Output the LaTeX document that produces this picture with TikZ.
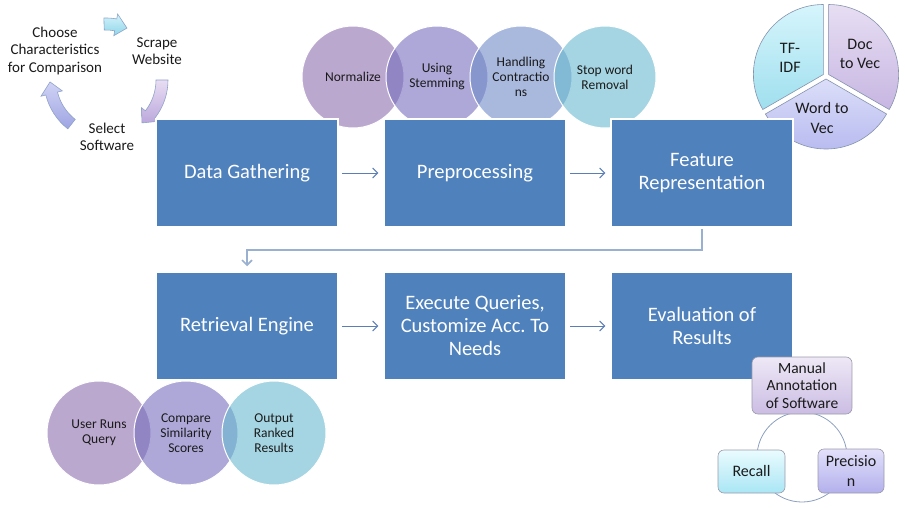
\documentclass[tikz,border=0pt]{standalone}
\usepackage{fontspec}
\setmainfont{Carlito}
\frenchspacing
\usetikzlibrary{arrows.meta, shadings}

\definecolor{boxblue}{HTML}{4F81BD}
\definecolor{arrowcol}{HTML}{5B7EB6}
\definecolor{elbowcol}{HTML}{9AB0D0}
\definecolor{txt}{HTML}{1A1A1A}
\definecolor{v1}{HTML}{8E6EAF}
\definecolor{v2}{HTML}{766EBE}
\definecolor{v3}{HTML}{708AC8}
\definecolor{v4}{HTML}{69B9CF}
\definecolor{tftop}{HTML}{D6F5FC}
\definecolor{tfbot}{HTML}{9FDFEE}
\definecolor{doctop}{HTML}{E7DEF3}
\definecolor{docbot}{HTML}{C7B6E2}
\definecolor{wordtop}{HTML}{DCDEF9}
\definecolor{wordbot}{HTML}{B4B7EE}
\definecolor{pieline}{HTML}{8593AE}
\definecolor{atop1}{HTML}{D3F3FA}
\definecolor{abot1}{HTML}{8ED6E9}
\definecolor{atop2}{HTML}{E8DDF3}
\definecolor{abot2}{HTML}{BCA8DC}
\definecolor{atop3}{HTML}{D0D3F5}
\definecolor{abot3}{HTML}{9EA4E2}
\definecolor{cycline}{HTML}{8FA3C9}
\definecolor{mantop}{HTML}{EEE8F6}
\definecolor{manbot}{HTML}{CBBDE3}
\definecolor{rectop}{HTML}{EAFBFE}
\definecolor{recbot}{HTML}{A9E6F5}
\definecolor{prectop}{HTML}{E2E0FA}
\definecolor{precbot}{HTML}{B3B0EC}
\definecolor{roundline}{HTML}{9A9AAA}
\definecolor{ringcol}{HTML}{8DA0C0}

% curved block arrow of the small cycle: #1 start angle, #2 end angle, #3/#4 colours
\newcommand{\cyclearrow}[4]{%
  \draw[cycline, line width=0.6pt, top color=#3, bottom color=#4]
    (#1:50) arc[start angle=#1, end angle=#2-12, radius=50]
    -- (#2-12:45) -- (#2:56) -- (#2-12:67) -- (#2-12:62)
    arc[start angle=#2-12, end angle=#1, radius=62] -- cycle;
}

\begin{document}
\begin{tikzpicture}[x=1pt, y=-1pt,
    mainbox/.style={rectangle, fill=boxblue, draw=white, line width=1.5pt,
      minimum width=182pt, minimum height=108pt, text=white, align=center,
      font=\fontsize{20.5}{23}\selectfont},
    venn/.style={circle, draw=white, line width=1pt, minimum size=102pt,
      fill opacity=0.6, text opacity=1, text=txt, align=center, inner sep=0pt,
      font=\fontsize{13.5}{15}\selectfont},
    cyctext/.style={text=txt, align=center, font=\fontsize{15}{17.5}\selectfont},
    pietext/.style={text=txt, align=center, font=\fontsize{16}{19.5}\selectfont},
    roundbox/.style={rectangle, rounded corners=6pt, draw=roundline, line width=0.6pt,
      text=txt, align=center, inner sep=1pt},
    flowline/.style={draw=arrowcol, line width=0.9pt,
      -{Straight Barb[length=5pt, width=10pt]}, shorten <=3pt, shorten >=5pt},
    elbowline/.style={draw=elbowcol, line width=1.6pt,
      -{Straight Barb[length=5pt, width=10pt]}, shorten <=1pt, shorten >=5pt}]
  \useasboundingbox (0,0) rectangle (905,508);

  % Small cycle (top left)
  \begin{scope}[shift={(106,80)}]
    \cyclearrow{-92}{-68}{atop1}{abot1}
    \cyclearrow{0}{50}{atop2}{abot2}
    \cyclearrow{128}{178}{atop3}{abot3}
  \end{scope}
  \node[cyctext] (choose) at (55,51) {Choose\\Characteristics\\for Comparison};
  \node[cyctext] (scrape) at (157,51) {Scrape\\Website};
  \node[cyctext] (select) at (107,137) {Select\\Software};

  % Preprocessing steps
  \foreach \name/\x/\col/\txt in {norm/353/v1/Normalize, stem/437/v2/{Using\\Stemming},
      contr/521/v3/{Handling\\Contractio\\ns}, stop/605/v4/{Stop word\\Removal}}
    \node[venn, fill=\col] (\name) at (\x,77) {\txt};

  % Retrieval steps
  \foreach \name/\x/\col/\txt in {query/99/v1/{User Runs\\Query},
      compare/186/v2/{Compare\\Similarity\\Scores}, ranked/274/v4/{Output\\Ranked\\Results}}
    \node[venn, fill=\col, minimum size=104pt] (\name) at (\x,433) {\txt};

  % Pie of representations
  \begin{scope}[shift={(826,76)}]
    \foreach \a/\b/\tc/\bc in {90/210/tftop/tfbot, -30/90/doctop/docbot, 210/330/wordtop/wordbot}
      \draw[pieline, line width=0.6pt, top color=\tc, bottom color=\bc]
        ({-(\a+\b)/2}:3) -- ++({-\a}:70) arc[start angle={-\a}, end angle={-\b}, radius=70] -- cycle;
  \end{scope}
  \node[pietext] (tfidf) at (790,58) {TF-\\IDF};
  \node[pietext] (doc2vec) at (860,54) {Doc\\to Vec};
  \node[pietext] (word2vec) at (822,118) {Word to\\Vec};

  % Main blocks
  \node[mainbox] (gather) at (247,173) {Data Gathering};
  \node[mainbox] (prep) at (475,173) {Preprocessing};
  \node[mainbox] (feat) at (702,173) {Feature\\Representation};
  \node[mainbox] (retr) at (247,326) {Retrieval Engine};
  \node[mainbox] (exec) at (475,326) {Execute Queries,\\Customize Acc. To\\Needs};
  \node[mainbox] (eval) at (702,326) {Evaluation of\\Results};

  \draw[flowline] (gather) -- (prep);
  \draw[flowline] (prep) -- (feat);
  \draw[flowline] (retr) -- (exec);
  \draw[flowline] (exec) -- (eval);
  \draw[elbowline] (feat.south) -- ++(0,22) -| (retr.north);

  % Evaluation cycle (bottom right)
  \coordinate (ring) at (802,457);
  \draw[ringcol, line width=0.8pt] (ring) circle (45);
  \node[roundbox, top color=mantop, bottom color=manbot, minimum width=100pt, minimum height=57pt,
    font=\fontsize{15.5}{17.5}\selectfont] (manual) at (802,385.5) {Manual\\Annotation\\of Software};
  \node[roundbox, top color=rectop, bottom color=recbot, minimum width=67pt, minimum height=43pt,
    font=\fontsize{16}{20}\selectfont] (recall) at (751.5,471.5) {Recall};
  \node[roundbox, top color=prectop, bottom color=precbot, minimum width=66pt, minimum height=44pt,
    font=\fontsize{16}{20}\selectfont] (precision) at (851,471) {Precisio\\n};
\end{tikzpicture}
\end{document}
